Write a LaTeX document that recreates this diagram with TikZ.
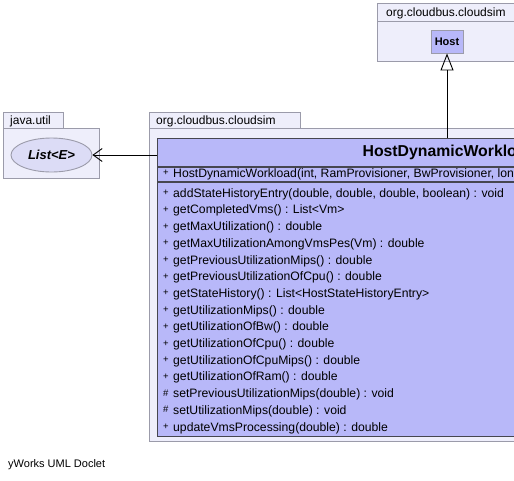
\documentclass[tikz,border=0pt]{standalone}
\usepackage{fontspec}
\setmainfont{Liberation Sans}
\usetikzlibrary{arrows.meta, positioning, shapes.geometric}

\definecolor{pkgfill}{RGB}{238, 238, 251}
\definecolor{pkgline}{RGB}{155, 155, 170}
\definecolor{clsfill}{RGB}{184, 184, 249}
\definecolor{clsline}{RGB}{70, 70, 80}
\definecolor{listfill}{RGB}{220, 220, 246}

\tikzset{
  pkg/.style={draw=pkgline, fill=pkgfill, line width=0.9pt},
  pkglabel/.style={anchor=base west, inner sep=0pt, font=\fontsize{12}{14}\selectfont},
  clsbox/.style={draw=clsline, fill=clsfill, line width=0.9pt, anchor=north west,
    minimum width=583pt, inner sep=0pt},
  member/.style={anchor=base west, inner sep=0pt, font=\fontsize{12.2}{14}\selectfont},
  realizes/.style={line width=0.9pt, -{Triangle[open, length=17pt, width=13pt]}},
  uses/.style={line width=0.9pt, -{Straight Barb[length=9pt, width=13pt]}}
}

\newcommand{\vis}[1]{\makebox[10pt][l]{\raisebox{1.5pt}{\fontsize{9.5}{10}\selectfont #1}}}

\begin{document}
\begin{tikzpicture}[x=1pt, y=-1pt]
  \useasboundingbox (0,0) rectangle (514,480);
  \clip (0,0) rectangle (514,480);

  % packages
  \draw[pkg] (377,3) rectangle (760,21);
  \draw[pkg] (377,21) rectangle (760,61);
  \node[pkglabel] (pkgtop) at (386,16.5) {org.cloudbus.cloudsim};

  \draw[pkg] (3,112) rectangle (63,128);
  \draw[pkg] (3,128) rectangle (99,178);
  \node[pkglabel] (pkgutil) at (10,124.5) {java.util};

  \draw[pkg] (149,112) rectangle (300,128);
  \draw[pkg] (149,128) rectangle (760,441);
  \node[pkglabel] (pkgmain) at (156,124.5) {org.cloudbus.cloudsim};

  % classes
  \node[draw=pkgline, fill=clsfill, line width=0.9pt, minimum width=32pt, minimum height=23pt,
    inner sep=0pt, font=\fontsize{11}{12}\bfseries] (host) at (447,41.5) {Host};

  \node[ellipse, draw=pkgline, fill=listfill, line width=0.9pt, minimum width=81pt,
    minimum height=34pt, inner sep=0pt, font=\fontsize{13}{15}\bfseries\itshape]
    (list) at (51.5,155) {List<E>};

  \node[clsbox, minimum height=28pt, font=\fontsize{15.8}{18}\bfseries] (cls) at (157,138)
    {HostDynamicWorkload};
  \node[clsbox, minimum height=14pt] (ctor) at (cls.south west) {};
  \node[member] (ctortext) at (163,177.2)
    {\vis{+}HostDynamicWorkload(int, RamProvisioner, BwProvisioner, long, List<? extends Pe>, VmScheduler)};
  \node[clsbox, minimum height=254pt] (members) at (ctor.south west) {};

  \foreach \v/\sig [count=\i] in {
      +/{addStateHistoryEntry(double, double, double, boolean) : void},
      +/{getCompletedVms() : List<Vm>},
      +/{getMaxUtilization() : double},
      +/{getMaxUtilizationAmongVmsPes(Vm) : double},
      +/{getPreviousUtilizationMips() : double},
      +/{getPreviousUtilizationOfCpu() : double},
      +/{getStateHistory() : List<HostStateHistoryEntry>},
      +/{getUtilizationMips() : double},
      +/{getUtilizationOfBw() : double},
      +/{getUtilizationOfCpu() : double},
      +/{getUtilizationOfCpuMips() : double},
      +/{getUtilizationOfRam() : double},
      \#/{setPreviousUtilizationMips(double) : void},
      \#/{setUtilizationMips(double) : void},
      +/{updateVmsProcessing(double) : double}} {
    \node[member] (m\i) at (163,{197.2+16.7*(\i-1)}) {\vis{\v}\sig};
  }

  % connectors
  \draw[realizes] (cls.north -| host.south) -- (host.south);
  \draw[uses] (cls.west |- list.east) -- (list.east);

  \node[anchor=base west, inner sep=0pt, font=\fontsize{11}{13}\selectfont] (doclet) at (8,467)
    {yWorks UML Doclet};
\end{tikzpicture}
\end{document}
